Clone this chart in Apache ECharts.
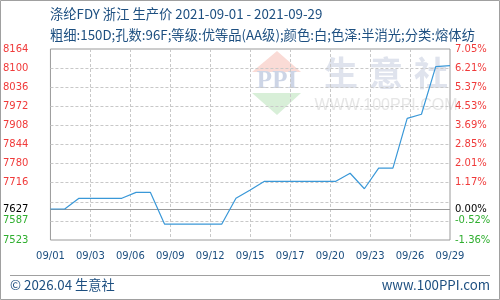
<!DOCTYPE html>
<html><head><meta charset="utf-8">
<script src="https://cdn.jsdelivr.net/npm/echarts@6/dist/echarts.min.js"></script>
<style>html,body{margin:0;padding:0;background:#fff}#c{width:500px;height:300px}</style>
</head><body><div id="c"></div>
<script>
const titleLine1 = '涤纶FDY 浙江 生产价 2021-09-01 - 2021-09-29';
const titleLine2 = '粗细:150D;孔数:96F;等级:优等品(AA级);颜色:白;色泽:半消光;分类:熔体纺';
const footerLeft = '© 2026.04 生意社';
const footerRight = 'www.100PPI.com';
const dates = ['09/01','09/02','09/03','09/04','09/05','09/06','09/07','09/08','09/09','09/10',
  '09/11','09/12','09/13','09/14','09/15','09/16','09/17','09/18','09/19','09/20',
  '09/21','09/22','09/23','09/24','09/25','09/26','09/27','09/28','09/29'];
const prices = [7627,7627,7663,7663,7663,7663,7683,7683,7576,7576,
  7576,7576,7576,7663,7691,7720,7720,7720,7720,7720,
  7720,7747,7695,7764,7764,7931,7945,8105,8108];
const xTickLabels = ['09/01','09/03','09/06','09/09','09/12','09/15','09/17','09/20','09/23','09/26','09/29'];
const yLeftTickLabels = ['7523','7587','','7716','7780','7844','7908','7972','8036','8100','8164'];
const yRightTickLabels = ['-1.36%','-0.52%','','1.17%','2.01%','2.85%','3.69%','4.53%','5.37%','6.21%','7.05%'];
const basePrice = 7627;
const baseLabel = '7627';
const basePctLabel = '0.00%';
const yMin = 7523, yMax = 8164;

const RED = '#f03a3a', GREEN = '#2fae2f', NAVY = '#1d4f80';
const labelFont = 'DejaVu Sans';
const titleFont = '13.3px "Noto Sans CJK SC"';
const nX = xTickLabels.length - 1;
const nY = yLeftTickLabels.length - 1;
function tickColor(v) {
  const i = Math.round(v);
  return i >= 3 ? RED : (i <= 1 ? GREEN : '#000');
}

const chart = echarts.init(document.getElementById('c'), null, {renderer: 'canvas'});
chart.setOption({
  animation: false,
  grid: {left: 50, right: 50, top: 49, bottom: 60, show: true, borderColor: '#9a9a9a', borderWidth: 1, backgroundColor: 'transparent'},
  graphic: [
    {type: 'rect', z: 100, silent: true, shape: {x: 0.5, y: 0.5, width: 499, height: 299}, style: {fill: 'none', stroke: '#a0a0a0', lineWidth: 1}},
    {type: 'line', z: 100, silent: true, shape: {x1: 10, y1: 275.5, x2: 490, y2: 275.5}, style: {stroke: '#a0a0a0', lineWidth: 1}},
    {type: 'text', z: 100, style: {text: titleLine1, x: 50, y: 14, verticalAlign: 'middle', font: titleFont, fill: NAVY}},
    {type: 'text', z: 100, style: {text: titleLine2, x: 50, y: 35, verticalAlign: 'middle', font: titleFont, fill: NAVY}},
    {type: 'text', z: 100, style: {text: footerLeft, x: 10, y: 285, verticalAlign: 'middle', font: titleFont, fill: NAVY}},
    {type: 'text', z: 100, style: {text: footerRight, x: 490, y: 285, align: 'right', verticalAlign: 'middle', font: titleFont, fill: NAVY}},
    // watermark
    {type: 'polygon', z: -10, silent: true, shape: {points: [[277, 51], [252, 72], [301, 72]]}, style: {fill: '#fadbd6'}},
    {type: 'text', z: -10, silent: true, style: {text: 'PPI', x: 277, y: 82, align: 'center', verticalAlign: 'middle', font: 'bold 25px "Liberation Serif"', fill: '#cdd5e6'}},
    {type: 'polygon', z: -10, silent: true, shape: {points: [[252, 93], [301, 93], [277, 115]]}, style: {fill: '#d8efd8'}},
    {type: 'text', z: -10, silent: true, style: {text: '生', x: 341, y: 73, align: 'center', verticalAlign: 'middle', font: 'bold 34px "Noto Sans CJK SC"', fill: '#dfe3ed'}},
    {type: 'text', z: -10, silent: true, style: {text: '意', x: 386, y: 73, align: 'center', verticalAlign: 'middle', font: 'bold 34px "Noto Sans CJK SC"', fill: '#dfe3ed'}},
    {type: 'text', z: -10, silent: true, style: {text: '社', x: 431, y: 73, align: 'center', verticalAlign: 'middle', font: 'bold 34px "Noto Sans CJK SC"', fill: '#dfe3ed'}},
    {type: 'text', z: -10, silent: true, style: {text: 'WWW.100PPI.COM', x: 386, y: 106, align: 'center', verticalAlign: 'middle', font: '16px "Liberation Sans"', fill: '#e6e6e6'}}
  ],
  xAxis: {
    type: 'value', min: 0, max: dates.length - 1, interval: (dates.length - 1) / nX,
    axisLine: {show: false}, axisTick: {show: false},
    splitLine: {show: true, showMinLine: false, showMaxLine: false, lineStyle: {color: '#c8c8c8', type: [3, 2], width: 1}},
    axisLabel: {margin: 11, fontFamily: labelFont, fontSize: 10, color: NAVY,
      formatter: v => xTickLabels[Math.round(v / ((dates.length - 1) / nX))]}
  },
  yAxis: [
    {type: 'value', min: yMin, max: yMax, show: false},
    {type: 'value', min: 0, max: nY, interval: 1, position: 'left',
      axisLine: {show: false}, axisTick: {show: false},
      splitLine: {show: true, showMinLine: false, showMaxLine: false, lineStyle: {color: '#c8c8c8', type: [3, 2], width: 1}},
      axisLabel: {margin: 22, fontFamily: labelFont, fontSize: 10, color: tickColor,
        formatter: v => yLeftTickLabels[Math.round(v)]}},
    {type: 'value', min: 0, max: nY, interval: 1, position: 'right',
      axisLine: {show: false}, axisTick: {show: false}, splitLine: {show: false},
      axisLabel: {margin: 5, fontFamily: labelFont, fontSize: 10, color: tickColor,
        formatter: v => yRightTickLabels[Math.round(v)]}}
  ],
  series: [{
    type: 'line', xAxisIndex: 0, yAxisIndex: 0, showSymbol: false, symbol: 'none',
    data: prices.map((p, i) => [i, p]),
    lineStyle: {color: '#3a98d8', width: 1.2},
    z: 5,
    markLine: {
      silent: true, symbol: 'none', z: 3,
      lineStyle: {color: '#999', type: 'solid', width: 1},
      data: [
        {yAxis: basePrice, label: {show: true, position: 'start', distance: 22, formatter: baseLabel, color: '#000', fontFamily: labelFont, fontSize: 10}},
        {yAxis: basePrice, label: {show: true, position: 'end', distance: 5, formatter: basePctLabel, color: '#000', fontFamily: labelFont, fontSize: 10}}
      ]
    }
  }]
});
</script></body></html>
